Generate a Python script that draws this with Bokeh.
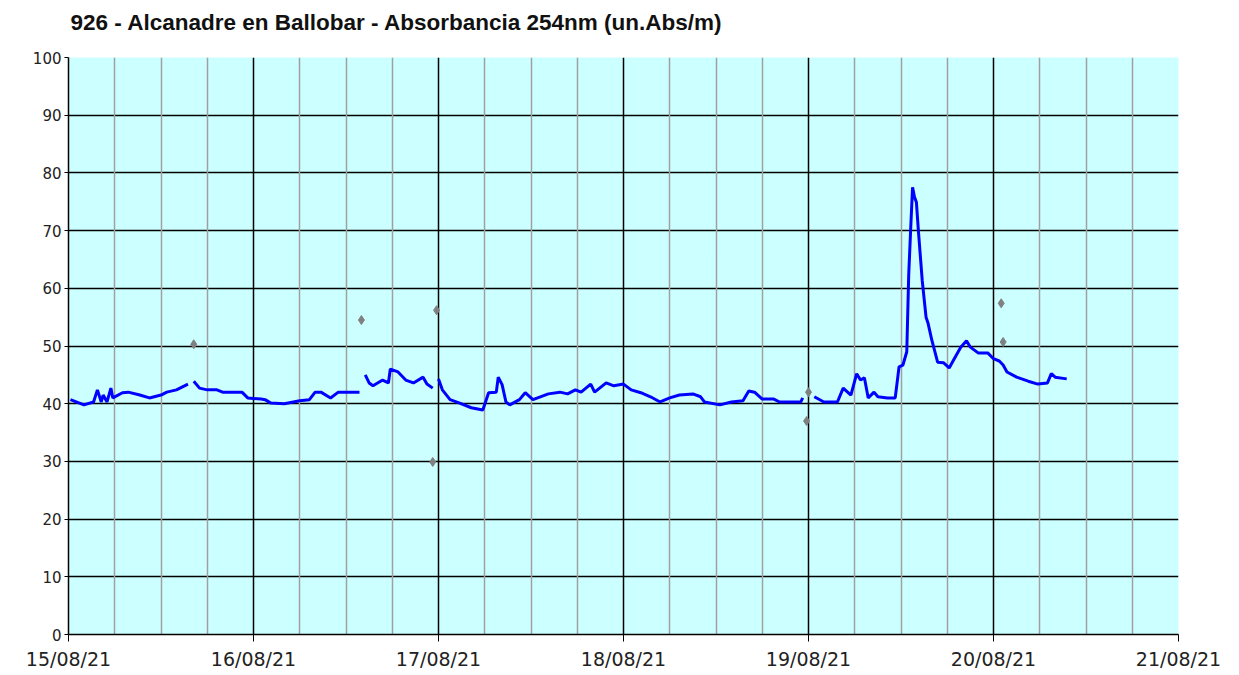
from datetime import datetime, timedelta
from bokeh.plotting import figure
from bokeh.models import FixedTicker, Grid, DatetimeTickFormatter, Range1d, Title
from bokeh.embed import file_html
from bokeh.resources import INLINE

title_text = "926 - Alcanadre en Ballobar - Absorbancia 254nm (un.Abs/m)"
base = datetime(2021, 8, 15)

# hours since 15/08/21 00:00; None marks a gap in the record
line_hours = [0.25, 2.0, 3.25, 3.75, 4.25, 4.5, 5.0, 5.5, 5.75, 7.0, 7.75, 9.25, 10.5, 12.0, 12.75, 14.0, 15.5,
              None,
              16.25, 17.0, 18.0, 19.25, 20.0, 22.5, 23.25, 25.0, 25.5, 26.25, 28.0, 30.0, 31.25, 32.0, 32.75, 34.0, 35.0, 37.75,
              None,
              38.5, 39.0, 39.5, 40.75, 41.5, 41.75, 42.75, 43.75, 44.75, 46.0, 46.5, 47.25,
              None,
              48.0, 48.5, 49.5, 50.75, 52.25, 53.75, 54.5, 55.5, 55.75, 56.25, 56.75, 57.25, 58.5, 59.25, 60.25, 62.25,
              63.75, 64.75, 65.75, 66.5, 67.75, 68.25, 69.75, 70.75, 72.0, 73.0, 74.25, 75.5, 76.75, 78.0, 79.25, 81.0,
              82.0, 82.5, 84.5, 86.0, 87.5, 88.25, 89.0, 90.0, 91.5, 92.25, 95.0, 95.25,
              None,
              96.75, 98.0, 99.75, 100.5, 101.5, 102.25, 102.75, 103.25, 103.75, 104.5, 105.0, 106.25, 107.25, 107.75,
              108.25, 108.75, 109.0, 109.25, 109.5, 109.75, 110.0, 110.25, 110.75, 111.25, 111.5, 112.0, 112.75, 113.5,
              114.25, 114.75, 115.75, 116.5, 117.0, 118.0, 119.25, 120.0, 120.75, 121.25, 121.75, 123.0, 124.5, 125.75,
              127.0, 127.5, 128.0, 129.5]
line_values = [40.7, 39.8, 40.3, 42.4, 40.3, 41.5, 40.3, 42.7, 41.0, 41.9, 42.0, 41.5, 41.0, 41.5, 42.0, 42.4, 43.4,
               None,
               43.9, 42.7, 42.4, 42.4, 42.0, 42.0, 41.0, 40.8, 40.7, 40.1, 40.0, 40.5, 40.7, 42.0, 42.0, 41.0, 42.0, 42.0,
               None,
               45.0, 43.6, 43.1, 44.1, 43.6, 46.0, 45.5, 44.1, 43.6, 44.6, 43.4, 42.7,
               None,
               44.3, 42.4, 40.7, 40.1, 39.3, 38.9, 41.9, 42.0, 44.6, 43.3, 40.3, 39.8, 40.7, 41.9, 40.7, 41.7,
               42.0, 41.7, 42.4, 42.0, 43.4, 42.0, 43.6, 43.1, 43.4, 42.4, 41.9, 41.2, 40.3, 41.0, 41.5, 41.7,
               41.2, 40.3, 39.8, 40.3, 40.5, 42.2, 42.0, 40.8, 40.8, 40.3, 40.3, 41.0,
               None,
               41.2, 40.3, 40.3, 42.7, 41.5, 45.2, 44.1, 44.5, 41.0, 42.0, 41.2, 41.0, 41.0, 46.4,
               46.7, 49.0, 62.3, 70.1, 77.5, 75.8, 74.9, 70.1, 61.4, 55.0, 54.0, 51.0, 47.2, 47.1,
               46.2, 47.4, 49.8, 50.9, 49.8, 48.8, 48.8, 47.8, 47.4, 46.7, 45.5, 44.6, 43.9, 43.4,
               43.6, 45.2, 44.6, 44.3]

point_hours = [16.25, 38.0, 47.75, 47.25, 96.0, 95.75, 121.0, 121.25]
point_values = [50.3, 54.5, 56.2, 29.9, 42.0, 37.0, 57.4, 50.7]

day_hours = [0, 24, 48, 72, 96, 120, 144]
y_ticks = [0, 10, 20, 30, 40, 50, 60, 70, 80, 90, 100]


def to_ms(h):
    return (base + timedelta(hours=h) - datetime(1970, 1, 1)).total_seconds() * 1000.0


lx = [to_ms(h) if h is not None else float("nan") for h in line_hours]
ly = [v if v is not None else float("nan") for v in line_values]
px = [to_ms(h) for h in point_hours]

p = figure(width=1228, height=672, x_axis_type="datetime", title=None,
           output_backend="svg", toolbar_location=None,
           x_range=Range1d(to_ms(day_hours[0]), to_ms(day_hours[-1])),
           y_range=Range1d(0, 100),
           min_border_left=68, min_border_right=50, min_border_top=57, min_border_bottom=37)

p.background_fill_color = "#CCFFFF"
p.border_fill_color = "white"
p.outline_line_color = None

# spacer between plot frame and title, then the title itself (stacked outward)
spacer = Title(text=" ", text_font_size="10px", standoff=10)
p.add_layout(spacer, "above")
main_title = Title(text=title_text, text_font="Liberation Sans", text_font_style="bold",
                   text_font_size="22.5px", text_color="#111111", align="left",
                   offset=2, standoff=0)
p.add_layout(main_title, "above")

# grids: daily (black) and horizontal (black)
day_ms = [to_ms(h) for h in day_hours]
major_xgrid = p.xgrid[0]
major_xgrid.ticker = FixedTicker(ticks=day_ms[:-1])
major_xgrid.grid_line_color = "black"
major_xgrid.grid_line_width = 1.5
p.ygrid.ticker = FixedTicker(ticks=y_ticks)
p.ygrid.grid_line_color = "black"
p.ygrid.grid_line_width = 1.5

# minor vertical grid every 6 hours (gray)
six_hours = [to_ms(h) for h in range(day_hours[0], day_hours[-1] + 1, 6) if h % 24 != 0 or h == day_hours[-1]]
minor_grid = Grid(dimension=0, ticker=FixedTicker(ticks=six_hours),
                  grid_line_color="#A0A0A0", grid_line_width=1.5)
p.add_layout(minor_grid)

# axes
p.xaxis.ticker = FixedTicker(ticks=day_ms)
fmt = "%d/%m/%y"
p.xaxis.formatter = DatetimeTickFormatter(days=fmt, months=fmt, hours=fmt, years=fmt)
p.yaxis.ticker = FixedTicker(ticks=y_ticks)
for ax in (p.xaxis, p.yaxis):
    ax.axis_line_color = "black"
    ax.axis_line_width = 1.5
    ax.major_tick_line_color = "black"
    ax.minor_tick_line_color = None
    ax.major_tick_in = 0
    ax.major_label_text_font = "DejaVu Sans"
    ax.major_label_text_color = "#222222"
p.xaxis.major_label_text_font_size = "19px"
p.yaxis.major_label_text_font_size = "15px"
p.xaxis.major_tick_out = 7
p.xaxis.major_label_standoff = 6
p.yaxis.major_tick_out = 4
p.yaxis.major_label_standoff = 3

p.line(lx, ly, line_color="#0000FF", line_width=3)
p.scatter(px, point_values, marker="diamond", size=9, fill_color="#808080", line_color="#808080")

open("out.html", "w").write(file_html(p, INLINE))
